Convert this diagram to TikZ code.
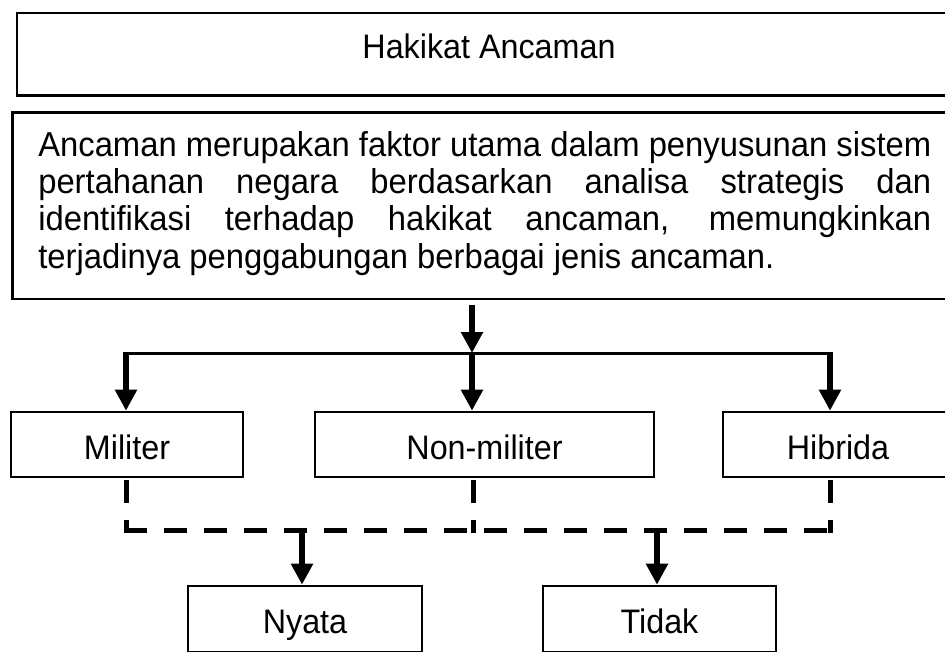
\documentclass[tikz,border=0pt]{standalone}
\usepackage{fontspec}
\setmainfont[FakeStretch=0.95]{Liberation Sans}
\usetikzlibrary{arrows.meta}
\begin{document}
\begin{tikzpicture}[x=1pt,y=-1pt,
  box/.style={draw, line width=2.6pt, inner xsep=0pt, inner ysep=0pt,
    font=\fontsize{34}{37.3}\selectfont},
  flow/.style={line width=6.5pt, -{Triangle[width=21pt,length=21pt]}},
  bar/.style={line width=3pt},
  dashline/.style={line width=5pt, line cap=rect, dash pattern=on 18pt off 22pt}]
\clip (0,0) rectangle (945,652);
\fill[white] (0,0) rectangle (945,652);

% boxes
\node[box, anchor=base, minimum width=944pt, text height=46pt, text depth=36.5pt]
  (title) at (489,59) {Hakikat Ancaman};

\node[box, anchor=north west, inner xsep=26pt, inner ysep=18pt, text width=893pt,
  align=justify, font=\fontsize{34.5}{37.3}\selectfont] (desc) at (11,111)
  {\spaceskip=0pt\xspaceskip=0pt\relax
   \makebox[893pt][s]{\rule{0pt}{26pt}Ancaman merupakan faktor utama dalam penyusunan sistem}\\
   \makebox[893pt][s]{pertahanan negara berdasarkan analisa strategis dan}\\
   \makebox[893pt][s]{identifikasi terhadap hakikat ancaman, memungkinkan}\\
   \makebox[893pt][l]{terjadinya penggabungan berbagai jenis ancaman.\rule[-13pt]{0pt}{1pt}}};

\node[box, anchor=base, minimum width=232pt, text height=47pt, text depth=18pt]
  (militer) at (127,459) {Militer};
\node[box, anchor=base, minimum width=339pt, text height=47pt, text depth=18pt]
  (nonmil) at (484.5,459) {Non-militer};
\node[box, anchor=base, minimum width=230pt, text height=47pt, text depth=18pt]
  (hibrida) at (838,459) {Hibrida};
\node[box, anchor=base, minimum width=234pt, text height=47pt, text depth=19pt]
  (nyata) at (305,633) {Nyata};
\node[box, anchor=base, minimum width=233pt, text height=47pt, text depth=19pt]
  (tidak) at (659.5,633) {Tidak};

% junction points
\coordinate (split) at (472,353);
\coordinate (jL) at (126,353);
\coordinate (jR) at (830,353);
\coordinate (dL) at (126,530);
\coordinate (dM) at (473,530);
\coordinate (dR) at (830,530);
\coordinate (dN) at (302,530);
\coordinate (dT) at (657,530);

% solid connectors
\draw[flow, shorten <=5pt] (desc.south -| split) -- (split);
\draw[bar] (jL) -- (jR);
\draw[flow, shorten <=-1.5pt] (jL) -- (jL |- militer.north);
\draw[flow, shorten <=-1.5pt] (split) -- (split |- nonmil.north);
\draw[flow, shorten <=-1.5pt] (jR) -- (jR |- hibrida.north);

% dashed connectors
\draw[dashline, shorten <=4pt] (militer.south -| dL) -- (dL);
\draw[dashline, shorten <=4pt] (nonmil.south -| dM) -- (dM);
\draw[dashline, shorten <=4pt] (hibrida.south -| dR) -- (dR);
\draw[dashline] (dL) -- (dR);

\draw[flow, shorten <=-2.5pt] (dN) -- (dN |- nyata.north);
\draw[flow, shorten <=-2.5pt] (dT) -- (dT |- tidak.north);
\end{tikzpicture}
\end{document}
